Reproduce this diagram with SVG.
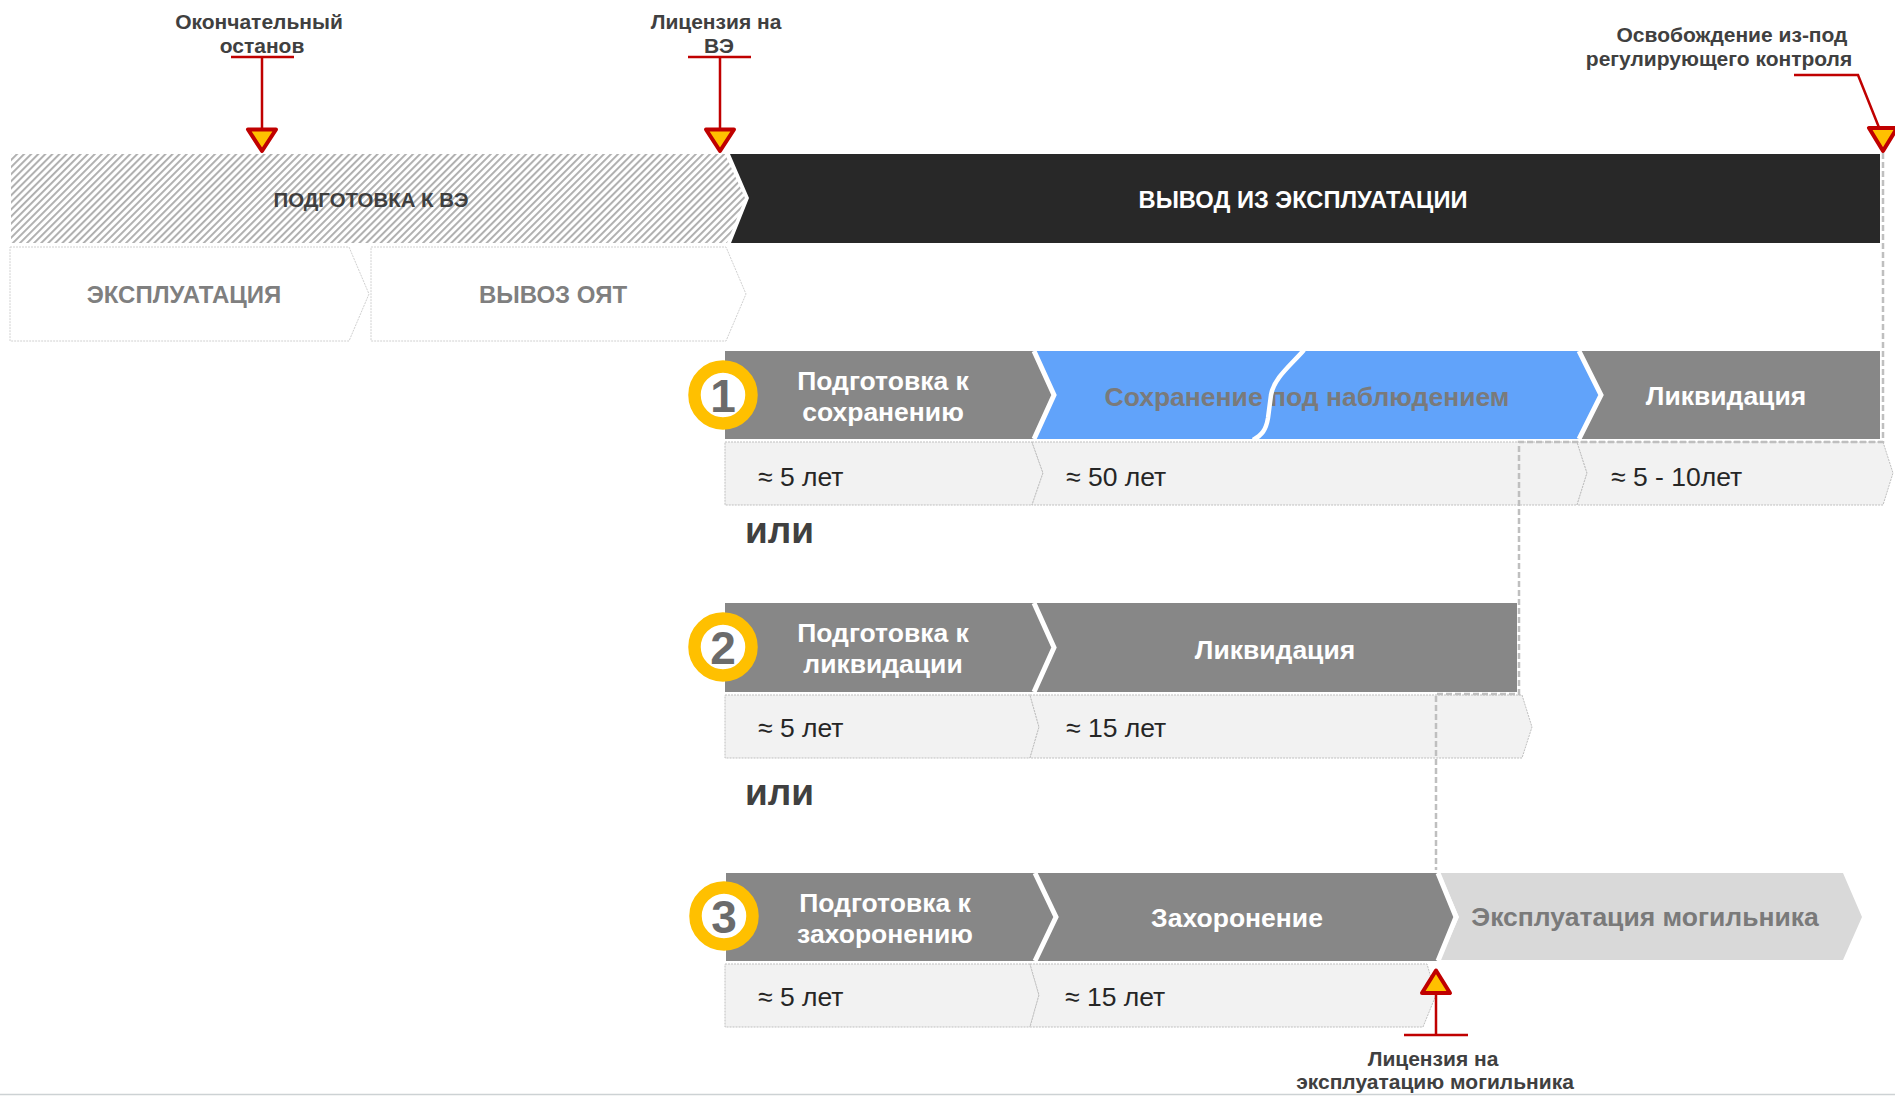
<svg xmlns="http://www.w3.org/2000/svg" width="1895" height="1096" viewBox="0 0 1895 1096">
<defs>
<style>
text{font-family:"Liberation Sans",Arial,sans-serif}
.lbl{font-size:21px;font-weight:bold;fill:#404040;text-anchor:middle}
.bar{fill:#878787}
.wt{font-size:26.5px;font-weight:bold;fill:#ffffff;text-anchor:middle}
.gt{font-size:26.5px;font-weight:bold;fill:#7a7a7a;text-anchor:middle}
.dur{fill:#f2f2f2;stroke:#bfbfbf;stroke-width:1;stroke-dasharray:2 1}
.dt{font-size:26.5px;fill:#262626}
.top{fill:#ffffff;stroke:#d0d0d0;stroke-width:1;stroke-dasharray:2 1}
.tt{font-size:24px;font-weight:bold;fill:#7f7f7f;text-anchor:middle}
.sep{fill:none;stroke:#ffffff;stroke-width:5}
.ring{fill:#ffffff;stroke:#ffc000;stroke-width:12.5}
.num{font-size:46px;font-weight:bold;fill:#6b6b6b;text-anchor:middle}
.ili{font-size:37px;font-weight:bold;fill:#404040}
.red{fill:none;stroke:#c00000;stroke-width:2.5}
.tri{fill:#ffc000;stroke:#c00000;stroke-width:4;stroke-linejoin:round}
.dash{fill:none;stroke:#bfbfbf;stroke-width:2.5;stroke-dasharray:6 3}
</style>
<pattern id="hatch" patternUnits="userSpaceOnUse" width="5" height="5" patternTransform="rotate(45)">
<rect width="5" height="5" fill="#ffffff"/>
<rect width="1.9" height="5" fill="#adadad"/>
</pattern>
</defs>
<rect width="1895" height="1096" fill="#ffffff"/>
<line x1="0" y1="1094.5" x2="1895" y2="1094.5" stroke="#cdd2d4" stroke-width="1.5"/>

<g id="phase-prep-ve">
<path d="M11,154 L725,154 L745,198 L727,243 L11,243 Z" fill="url(#hatch)"/>
<text x="371" y="207" font-size="21" font-weight="bold" fill="#3f3f3f" text-anchor="middle" textLength="195" lengthAdjust="spacingAndGlyphs">ПОДГОТОВКА К ВЭ</text>
</g>
<g id="phase-decommissioning">
<path d="M730,154 L1880,154 L1880,243 L731,243 L749,198 Z" fill="#282828"/>
<text x="1303" y="208" font-size="23.7" font-weight="bold" fill="#ffffff" text-anchor="middle">ВЫВОД ИЗ ЭКСПЛУАТАЦИИ</text>
</g>
<g id="phase-operation">
<path class="top" d="M10,247 L349,247 L369,294 L349,341 L10,341 Z"/>
<text class="tt" x="184" y="303">ЭКСПЛУАТАЦИЯ</text>
</g>
<g id="phase-snf-removal">
<path class="top" d="M371,247 L726,247 L746,294 L726,341 L371,341 Z"/>
<text class="tt" x="553" y="303">ВЫВОЗ ОЯТ</text>
</g>

<g id="row1">
<g id="r1-prep">
<path class="bar" d="M725,351 L1033,351 L1053,395 L1033,439 L725,439 Z"/>
<text class="wt" x="883" y="390">Подготовка к</text>
<text class="wt" x="883" y="421">сохранению</text>
</g>
<g id="r1-storage">
<path d="M1033,351 L1578,351 L1600,395 L1578,439 L1033,439 L1053,395 Z" fill="#61a3fa"/>
<text class="gt" x="1307" y="406">Сохранение под наблюдением</text>
<path d="M1304,350 C1290,366 1274,378 1271,395 L1268,418 C1266,430 1262,435 1253,440" fill="none" stroke="#ffffff" stroke-width="4.5"/>
</g>
<g id="r1-dismantle">
<path class="bar" d="M1578,351 L1880,351 L1880,439 L1578,439 L1600,395 Z"/>
<text class="wt" x="1726" y="405">Ликвидация</text>
</g>
<polyline class="sep" points="1034,351 1054,395 1034,439"/>
<polyline class="sep" points="1579,351 1601,395 1579,439"/>
<g id="r1-badge">
<circle class="ring" cx="723" cy="395" r="28.5"/>
<text class="num" x="723" y="411.5">1</text>
</g>
<g id="r1-durations">
<path class="dur" d="M725,442 L1032,442 L1043,473 L1032,505 L725,505 Z"/>
<path class="dur" d="M1032,442 L1577,442 L1587,473 L1577,505 L1032,505 L1043,473 Z"/>
<path class="dur" d="M1577,442 L1883,442 L1893,473 L1883,505 L1577,505 L1587,473 Z"/>
<text class="dt" x="758" y="486">≈ 5 лет</text>
<text class="dt" x="1066" y="486">≈ 50 лет</text>
<text class="dt" x="1611" y="486">≈ 5 - 10лет</text>
</g>
</g>
<text class="ili" x="745" y="543">или</text>

<g id="row2">
<g id="r2-prep">
<path class="bar" d="M725,603 L1033,603 L1053,647.5 L1033,692 L725,692 Z"/>
<text class="wt" x="883" y="642">Подготовка к</text>
<text class="wt" x="883" y="673">ликвидации</text>
</g>
<g id="r2-dismantle">
<path class="bar" d="M1033,603 L1517,603 L1517,692 L1033,692 L1053,647.5 Z"/>
<text class="wt" x="1275" y="659">Ликвидация</text>
</g>
<polyline class="sep" points="1034,603 1054,647.5 1034,692"/>
<g id="r2-badge">
<circle class="ring" cx="723" cy="647" r="28.5"/>
<text class="num" x="723" y="663.5">2</text>
</g>
<g id="r2-durations">
<path class="dur" d="M725,695 L1030,695 L1039,727 L1030,758 L725,758 Z"/>
<path class="dur" d="M1030,695 L1522,695 L1532,727 L1522,758 L1030,758 L1039,727 Z"/>
<text class="dt" x="758" y="737">≈ 5 лет</text>
<text class="dt" x="1066" y="737">≈ 15 лет</text>
</g>
</g>
<text class="ili" x="745" y="805">или</text>

<g id="row3">
<g id="r3-prep">
<path class="bar" d="M726,873 L1034,873 L1055,917 L1034,961 L726,961 Z"/>
<text class="wt" x="885" y="912">Подготовка к</text>
<text class="wt" x="885" y="943">захоронению</text>
</g>
<g id="r3-disposal">
<path class="bar" d="M1034,873 L1437,873 L1455,917 L1437,961 L1034,961 L1055,917 Z"/>
<text class="wt" x="1237" y="927">Захоронение</text>
</g>
<g id="r3-repository">
<path d="M1440,873 L1843,873 L1862,917 L1843,960 L1440,960 L1459,917 Z" fill="#d9d9d9"/>
<text class="gt" x="1645" y="926">Эксплуатация могильника</text>
</g>
<polyline class="sep" points="1035,873 1056,917 1035,961"/>
<polyline class="sep" points="1438,873 1456,917 1438,961"/>
<g id="r3-badge">
<circle class="ring" cx="724" cy="916" r="28.5"/>
<text class="num" x="724" y="932.5">3</text>
</g>
<g id="r3-durations">
<path class="dur" d="M725,964 L1030,964 L1039,995 L1030,1027 L725,1027 Z"/>
<path class="dur" d="M1030,964 L1427,964 L1436,995 L1423,1027 L1030,1027 L1039,995 Z"/>
<text class="dt" x="758" y="1006">≈ 5 лет</text>
<text class="dt" x="1065" y="1006">≈ 15 лет</text>
</g>
</g>

<g id="connectors">
<path class="dash" d="M1883,153 V442 H1519 V694 H1436 V870"/>
<path class="red" d="M231,57 H294 M262,57 V130"/>
<path class="tri" d="M248,129.5 L276,129.5 L262,151 Z"/>
<path class="red" d="M688,57 H751 M720,57 V130"/>
<path class="tri" d="M706,129.5 L734,129.5 L720,151 Z"/>
<path class="red" d="M1794,75 H1858 L1880,130"/>
<path class="tri" d="M1869,128 L1897,128 L1883,151 Z"/>
<path class="red" d="M1436,993 V1035 M1404,1035 H1468"/>
<path class="tri" d="M1436,970.5 L1450,993 L1422,993 Z"/>
</g>

<g id="milestone-final-shutdown">
<text class="lbl" x="259" y="29">Окончательный</text>
<text class="lbl" x="262" y="53">останов</text>
</g>
<g id="milestone-license-ve">
<text class="lbl" x="716" y="29">Лицензия на</text>
<text class="lbl" x="719" y="53">ВЭ</text>
</g>
<g id="milestone-release">
<text class="lbl" x="1732" y="42">Освобождение из-под</text>
<text class="lbl" x="1719" y="66">регулирующего контроля</text>
</g>
<g id="milestone-repository-license">
<text class="lbl" x="1433" y="1066">Лицензия на</text>
<text class="lbl" x="1435" y="1089">эксплуатацию могильника</text>
</g>
</svg>
